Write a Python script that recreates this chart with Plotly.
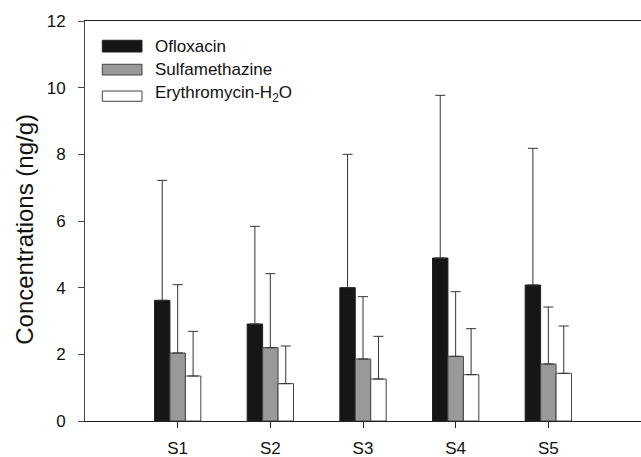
import plotly.graph_objects as go

# ---- data ----
categories = ["S1", "S2", "S3", "S4", "S5"]
series_names = ["Ofloxacin", "Sulfamethazine", "Erythromycin-H<sub>2</sub>O"]
ofloxacin = [3.62, 2.91, 4.00, 4.89, 4.08]
ofloxacin_sd = [3.60, 2.93, 4.00, 4.88, 4.10]
sulfamethazine = [2.04, 2.20, 1.86, 1.94, 1.71]
sulfamethazine_sd = [2.05, 2.22, 1.87, 1.94, 1.71]
erythromycin = [1.35, 1.12, 1.26, 1.39, 1.43]
erythromycin_sd = [1.34, 1.13, 1.28, 1.38, 1.42]
y_ticks = [0, 2, 4, 6, 8, 10, 12]

fills = ["#161616", "#999999", "#ffffff"]
outlines = ["#222222", "#444444", "#444444"]
FONT = "Liberation Sans, Arial, Helvetica, sans-serif"

fig = go.Figure()
for name, vals, sds, fc, lc in zip(series_names,
                                   [ofloxacin, sulfamethazine, erythromycin],
                                   [ofloxacin_sd, sulfamethazine_sd, erythromycin_sd],
                                   fills, outlines):
    fig.add_trace(go.Bar(
        x=categories, y=vals, name=name,
        marker=dict(color=fc, line=dict(color=lc, width=1)),
        error_y=dict(type="data", array=sds, arrayminus=[0] * len(sds),
                     symmetric=False, color="#333333", thickness=1, width=5),
        showlegend=False,
    ))

# manual legend (rectangular swatches like the original)
sw_x0, sw_x1 = 0.0311, 0.1025
legend_rows = [(0.9225, 0.9518, 0.937), (0.865, 0.8918, 0.879), (0.7993, 0.825, 0.818)]
for (y0, y1, yt), fc, lc, name in zip(legend_rows, fills, outlines, series_names):
    fig.add_shape(type="rect", xref="paper", yref="paper",
                  x0=sw_x0, x1=sw_x1, y0=y0, y1=y1,
                  fillcolor=fc, line=dict(color=lc, width=1))
    fig.add_annotation(xref="paper", yref="paper", x=0.1218, y=yt,
                       xanchor="left", yanchor="middle", text=name,
                       showarrow=False, font=dict(family=FONT, size=17, color="#111111"))

# y axis title
fig.add_annotation(xref="paper", yref="paper", x=-0.108, y=0.4805,
                   xanchor="center", yanchor="middle", textangle=-90,
                   text="Concentrations (ng/g)", showarrow=False,
                   font=dict(family=FONT, size=24, color="#111111"))

fig.update_layout(
    width=641, height=457,
    margin=dict(l=85, r=0, t=21, b=36, pad=0),
    paper_bgcolor="white", plot_bgcolor="white",
    barmode="group", bargap=0.5, bargroupgap=0,
    font=dict(family=FONT, size=17, color="#111111"),
    showlegend=False,
    xaxis=dict(range=[-1, 5], showline=True, linecolor="#222222", linewidth=1,
               mirror=True, ticks="outside", ticklen=6, tickcolor="#222222",
               ticklabelstandoff=6, showgrid=False, zeroline=False,
               tickfont=dict(family=FONT, size=17, color="#111111")),
    yaxis=dict(range=[0, 12], tickvals=y_ticks, showline=True, linecolor="#444444",
               linewidth=1, ticks="outside", ticklen=6, tickcolor="#444444",
               ticklabelstandoff=9, showgrid=False, zeroline=False,
               tickfont=dict(family=FONT, size=17, color="#111111")),
)

fig.write_html("out.html")
